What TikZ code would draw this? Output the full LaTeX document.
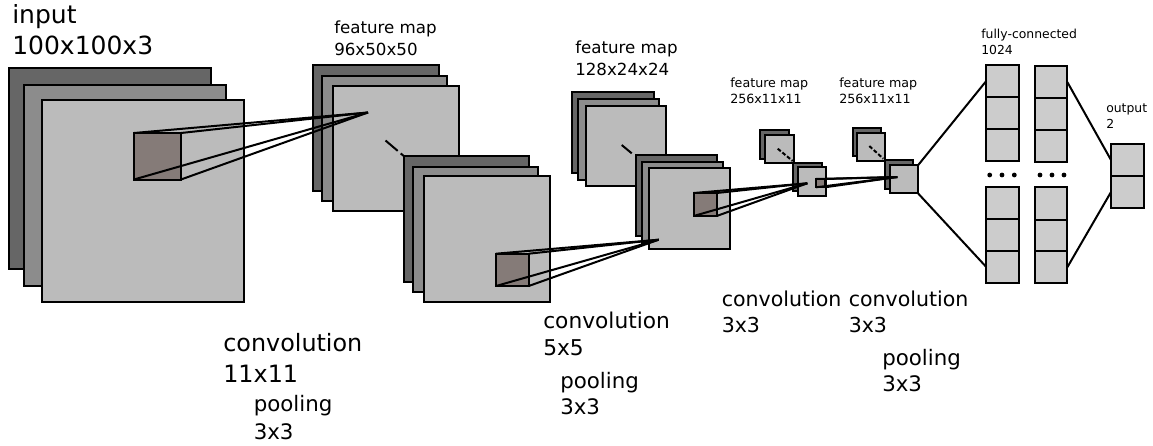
\documentclass[tikz,border=0pt]{standalone}
\usepackage{fontspec}
\setmainfont{DejaVu Sans}
\newcommand{\lay}[6]{% name, x1,y1,x2,y2, style
  \pgfmathsetmacro{\laywd}{(#4-#2)*0.75}\pgfmathsetmacro{\layht}{(#5-#3)*0.75}
  \node[box,#6,minimum width=\laywd pt,minimum height=\layht pt] (#1) at ({(#2+#4)/2},{(#3+#5)/2}) {};}
\newcommand{\lbl}[6]{% name, x, last baseline y, size, skip, text
  \node[lbltext,font=\fontsize{#4}{#5}\selectfont] (#1) at (#2,#3) {#6};}
\tikzset{
  x=0.75pt,y=-0.75pt,
  box/.style={draw=black,line width=1.5pt,inner sep=0pt,outer sep=0pt,rectangle},
  back/.style={fill=back},
  midd/.style={fill=midd},
  front/.style={fill=front},
  patch/.style={fill=patchc},
  fc/.style={fill=fcc},
  link/.style={draw=black,line width=1.5pt},
  dashlink/.style={draw=black,line width=1.5pt,dash pattern=on 12pt off 3pt},
  dotlink/.style={draw=black,line width=1.5pt,dash pattern=on 3pt off 1.5pt},
  lbltext/.style={anchor=base west,inner sep=0pt,align=left,text=black},
  dotn/.style={circle,fill=black,inner sep=0pt,minimum size=3.6pt},
}
\definecolor{back}{HTML}{666666}
\definecolor{midd}{HTML}{8C8C8C}
\definecolor{front}{HTML}{BBBBBB}
\definecolor{patchc}{HTML}{857B78}
\definecolor{fcc}{HTML}{CCCCCC}
\begin{document}
\begin{tikzpicture}
\useasboundingbox (0,0) rectangle (1153,446);
% input
\lay{a1}{9}{68}{211}{269}{back}
\lay{a2}{23.5}{84.5}{225.5}{286}{midd}
\lay{a3}{41.5}{100}{243.5}{302}{front}
\lay{ap}{134}{133}{181}{179.5}{patch}
% feature map 1
\lay{b1}{312.5}{65}{438.7}{191}{back}
\lay{b2}{321.5}{75.5}{447}{201}{midd}
\lay{b3}{333}{85.5}{458.7}{211}{front}
\coordinate (ba) at (368,112.5);
\foreach \c in {north west,north east,south west,south east}
  \draw[link] (ap.\c) -- (ba);
\coordinate (bd1) at (385.5,140.5);
\coordinate (bd2) at (412,163);
\draw[dashlink] (bd1) -- (bd2);
% stack 2
\lay{c1}{403.7}{156.3}{529.3}{281.7}{back}
\lay{c2}{412.7}{166.7}{538.3}{292.3}{midd}
\lay{c3}{423.7}{176}{550}{302}{front}
\lay{cp}{496}{253.7}{528.7}{286}{patch}
% fm 128
\lay{d1}{572.3}{92}{653.7}{173.3}{back}
\lay{d2}{578.3}{99.3}{659.3}{180}{midd}
\lay{d3}{585.7}{105.7}{666.3}{186}{front}
\coordinate (dd1) at (621.7,145);
\coordinate (dd2) at (631.7,153.3);
\draw[link] (dd1) -- (dd2);
\lay{e1}{635.7}{155}{717.3}{236.3}{back}
\lay{e2}{642}{162}{723}{243}{midd}
\lay{e3}{649}{168.3}{730}{248.7}{front}
\lay{ep}{693.7}{193}{716.7}{216}{patch}
\coordinate (ea) at (658.7,239.7);
\foreach \c in {north west,north east,south west,south east}
  \draw[link] (cp.\c) -- (ea);
% fm 256 a
\lay{f1}{760.3}{130.3}{789.3}{158.7}{back}
\lay{f2}{765.3}{135}{793.7}{163.3}{front}
\coordinate (fd1) at (777.7,148.7);
\coordinate (fd2) at (792.7,161);
\draw[dotlink] (fd1) -- (fd2);
\lay{g1}{793.3}{163}{822}{191}{back}
\lay{g2}{797.7}{167.3}{826.3}{195.7}{front}
\lay{gp}{816}{179}{825}{187.3}{patch}
\coordinate (ga) at (807.3,183.3);
\foreach \c in {north west,north east,south west,south east}
  \draw[link] (ep.\c) -- (ga);
% fm 256 b
\lay{h1}{852.7}{128}{881.3}{156.3}{back}
\lay{h2}{857.3}{132.7}{885.3}{160.7}{front}
\coordinate (hd1) at (869.3,146);
\coordinate (hd2) at (883.3,158.7);
\draw[dotlink] (hd1) -- (hd2);
\lay{i1}{885}{160.3}{913.3}{188.7}{back}
\lay{i2}{889.7}{165.3}{918}{193.3}{front}
\coordinate (ia) at (897.3,177);
\foreach \c in {north west,north east,south west,south east}
  \draw[link] (gp.\c) -- (ia);
% fully connected
\foreach \n/\xa/\xb/\ya/\yb in {
  j1/986/1018.7/65.3/97.3, j2/986/1018.7/97.3/129, j3/986/1018.7/129/161.3,
  j4/986/1018.7/186.7/219, j5/986/1018.7/219/250.7, j6/986/1018.7/250.7/282.7,
  k1/1034.7/1067.3/66/98, k2/1034.7/1067.3/98/130, k3/1034.7/1067.3/130/162,
  k4/1034.7/1067.3/187.3/219.7, k5/1034.7/1067.3/219.7/251.3, k6/1034.7/1067.3/251.3/283.3,
  o1/1111/1144/144.3/175.7, o2/1111/1144/175.7/208.3}{
  \lay{\n}{\xa}{\ya}{\xb}{\yb}{fc}
}
\foreach \n/\x in {p1/989.7,p2/1002,p3/1014.3,q1/1040,q2/1052,q3/1064}
  \node[dotn] (\n) at (\x,175) {};
\draw[link] (i2.north east) -- (j1.west);
\draw[link] (i2.south east) -- (j6.west);
\draw[link] (k1.east) -- (o1.west);
\draw[link] (k6.east) -- (o2.west);
% labels
\lbl{t1}{12}{54}{18.75}{23.25}{input\\100x100x3}
\lbl{t2}{334}{55}{12.5}{16.5}{feature map\\96x50x50}
\lbl{t3}{575}{75}{12.5}{16}{feature map\\128x24x24}
\lbl{t4}{730}{103}{9.5}{12}{feature map\\256x11x11}
\lbl{t5}{839}{103}{9.5}{12}{feature map\\256x11x11}
\lbl{t6}{981}{54}{9.3}{12}{fully-connected\\1024}
\lbl{t7}{1106}{128}{9.3}{12}{output\\2}
\lbl{t8}{223}{382.3}{17.9}{23}{convolution\\11x11}
\lbl{t9}{253.5}{439}{16}{20.5}{pooling\\3x3}
\lbl{t10}{543}{355}{16.3}{20}{convolution\\5x5}
\lbl{t11}{560}{414.3}{16}{19.5}{pooling\\3x3}
\lbl{t12}{721.5}{332.7}{15.4}{19.5}{convolution\\3x3}
\lbl{t13}{848.5}{332.7}{15.4}{19.5}{convolution\\3x3}
\lbl{t14}{882}{391.7}{16}{20}{pooling\\3x3}
\end{tikzpicture}
\end{document}
